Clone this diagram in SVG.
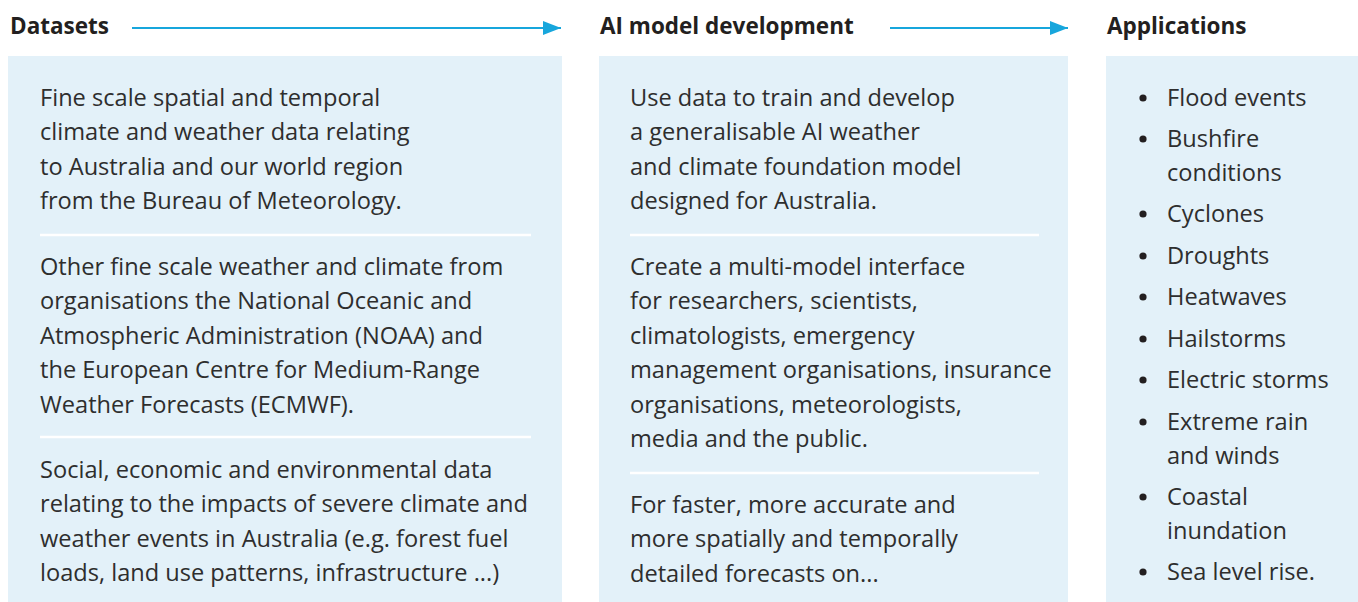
<svg xmlns="http://www.w3.org/2000/svg" width="1358" height="602" viewBox="0 0 1358 602">
<style>
.box{fill:#e3f1f9}
.hdr{font-family:"Open Sans","Noto Sans",sans-serif;font-weight:700;font-size:22.5px;fill:#231f20}
.txt{font-family:"Open Sans","Noto Sans",sans-serif;font-weight:400;font-size:23.6px;fill:#2e2e2e}
.sep{stroke:#ffffff;stroke-width:2.5}
.arr{stroke:#17a6dc;stroke-width:2.2;fill:none}
.bul{fill:#231f20}
</style>
<defs>
<marker id="ah" markerWidth="20" markerHeight="16" refX="18" refY="7" orient="auto" markerUnits="userSpaceOnUse">
<path d="M0,0 L18,7 L0,14 z" fill="#17a6dc"/>
</marker>
</defs>
<g id="connectors">
<line class="arr" x1="132" y1="28" x2="561" y2="28" marker-end="url(#ah)"/>
<line class="arr" x1="890" y1="28" x2="1068" y2="28" marker-end="url(#ah)"/>
</g>
<g id="datasets">
<text class="hdr" x="10" y="34">Datasets</text>
<rect class="box" x="8" y="56" width="554" height="546"/>
<line class="sep" x1="40" y1="235" x2="531" y2="235"/>
<line class="sep" x1="40" y1="437" x2="531" y2="437"/>
<text class="txt">
<tspan x="40" y="106">Fine scale spatial and temporal</tspan>
<tspan x="40" y="140.4">climate and weather data relating</tspan>
<tspan x="40" y="174.8">to Australia and our world region</tspan>
<tspan x="40" y="209.2">from the Bureau of Meteorology.</tspan>
<tspan x="40" y="275">Other fine scale weather and climate from</tspan>
<tspan x="40" y="309.4">organisations the National Oceanic and</tspan>
<tspan x="40" y="343.8">Atmospheric Administration (NOAA) and</tspan>
<tspan x="40" y="378.2">the European Centre for Medium-Range</tspan>
<tspan x="40" y="412.6">Weather Forecasts (ECMWF).</tspan>
<tspan x="40" y="478">Social, economic and environmental data</tspan>
<tspan x="40" y="512.4">relating to the impacts of severe climate and</tspan>
<tspan x="40" y="546.8">weather events in Australia (e.g. forest fuel</tspan>
<tspan x="40" y="581.2">loads, land use patterns, infrastructure ...)</tspan>
</text>
</g>
<g id="ai-model">
<text class="hdr" x="600" y="34">AI model development</text>
<rect class="box" x="599" y="56" width="469" height="546"/>
<line class="sep" x1="630" y1="235" x2="1039" y2="235"/>
<line class="sep" x1="630" y1="473" x2="1039" y2="473"/>
<text class="txt">
<tspan x="630" y="106">Use data to train and develop</tspan>
<tspan x="630" y="140.4">a generalisable AI weather</tspan>
<tspan x="630" y="174.8">and climate foundation model</tspan>
<tspan x="630" y="209.2">designed for Australia.</tspan>
<tspan x="630" y="275">Create a multi-model interface</tspan>
<tspan x="630" y="309.4">for researchers, scientists,</tspan>
<tspan x="630" y="343.8">climatologists, emergency</tspan>
<tspan x="630" y="378.2">management organisations, insurance</tspan>
<tspan x="630" y="412.6">organisations, meteorologists,</tspan>
<tspan x="630" y="447">media and the public.</tspan>
<tspan x="630" y="513">For faster, more accurate and</tspan>
<tspan x="630" y="547.4">more spatially and temporally</tspan>
<tspan x="630" y="581.8">detailed forecasts on...</tspan>
</text>
</g>
<g id="applications">
<text class="hdr" x="1107" y="34">Applications</text>
<rect class="box" x="1106" y="56" width="252" height="546"/>
<g class="bul">
<circle cx="1143" cy="98" r="3.6"/>
<circle cx="1143" cy="139" r="3.6"/>
<circle cx="1143" cy="214" r="3.6"/>
<circle cx="1143" cy="256" r="3.6"/>
<circle cx="1143" cy="297" r="3.6"/>
<circle cx="1143" cy="339" r="3.6"/>
<circle cx="1143" cy="380" r="3.6"/>
<circle cx="1143" cy="422" r="3.6"/>
<circle cx="1143" cy="497" r="3.6"/>
<circle cx="1143" cy="572" r="3.6"/>
</g>
<text class="txt">
<tspan x="1167" y="106">Flood events</tspan>
<tspan x="1167" y="147">Bushfire</tspan>
<tspan x="1167" y="181">conditions</tspan>
<tspan x="1167" y="222">Cyclones</tspan>
<tspan x="1167" y="264">Droughts</tspan>
<tspan x="1167" y="305">Heatwaves</tspan>
<tspan x="1167" y="347">Hailstorms</tspan>
<tspan x="1167" y="388">Electric storms</tspan>
<tspan x="1167" y="430">Extreme rain</tspan>
<tspan x="1167" y="464">and winds</tspan>
<tspan x="1167" y="505">Coastal</tspan>
<tspan x="1167" y="539">inundation</tspan>
<tspan x="1167" y="580">Sea level rise.</tspan>
</text>
</g>
</svg>
